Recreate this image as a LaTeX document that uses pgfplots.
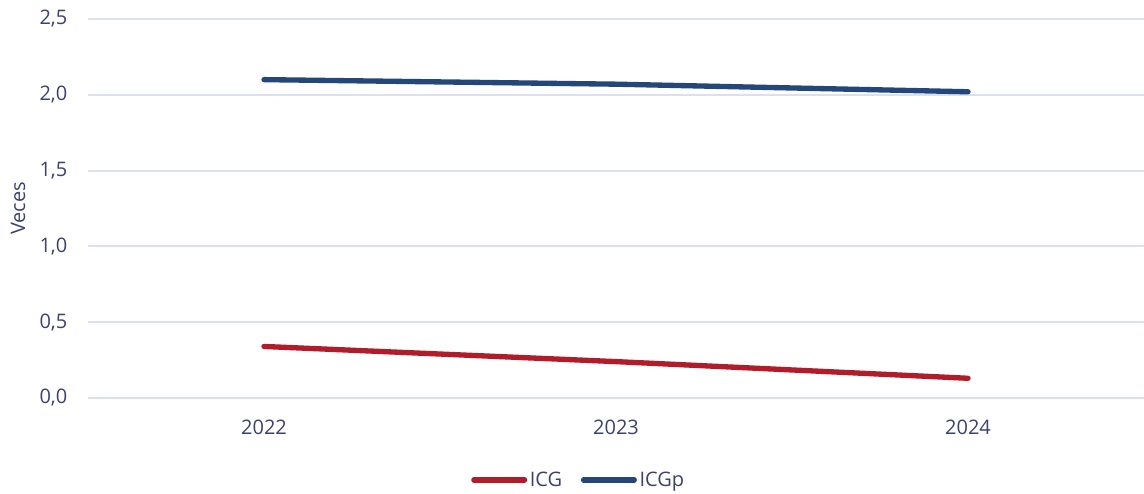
\documentclass[border=0pt]{standalone}
\usepackage{fontspec}
\setmainfont{Open Sans}
\usepackage{pgfplots}
\pgfplotsset{compat=1.18}
\usetikzlibrary{calc}

\definecolor{icgred}{HTML}{B01C2A}
\definecolor{icgblue}{HTML}{24477A}
\definecolor{txt}{HTML}{3B4170}
\definecolor{gridc}{HTML}{DCDFEF}

\begin{document}
\begin{tikzpicture}[x=1pt,y=1pt]
\begin{axis}[
  at={(0,0)}, anchor=south west,
  scale only axis,
  width=792pt, height=284.25pt,
  xmin=-0.5, xmax=2.5,
  ymin=0, ymax=2.5,
  xtick={0,1,2},
  xticklabels={2022,2023,2024},
  ytick={0,0.5,1,1.5,2,2.5},
  axis line style={draw=none},
  major tick length=0pt,
  ymajorgrids,
  grid style={gridc, line width=1.5pt},
  font=\fontsize{15pt}{18pt}\selectfont,
  ticklabel style={txt},
  yticklabel style={xshift=-12pt},
  xticklabel style={yshift=-13pt},
  /pgf/number format/assume math mode=true,
  yticklabel={\pgfmathprintnumber[fixed,fixed zerofill,precision=1,use comma]{\tick}},
  ylabel={Veces},
  every axis y label/.style={at={(rel axis cs:0,0.5)}, rotate=90, anchor=center,
    yshift=52.5pt, color=txt, font=\fontsize{15pt}{18pt}\selectfont},
  legend style={
    at={(rel axis cs:0.465,-0.216)}, anchor=center,
    draw=none, fill=none,
    legend columns=2,
    text=txt,
    font=\fontsize{15pt}{18pt}\selectfont,
    /tikz/every even column/.append style={column sep=12pt},
  },
  legend cell align=left,
  legend image code/.code={
    \draw[#1, line cap=round] (0pt,0pt) -- (38pt,0pt);
  },
]
\addplot[icgred, line width=4pt, line cap=round] coordinates {(0,0.34) (1,0.24) (2,0.13)};
\addlegendentry{ICG}
\addplot[icgblue, line width=4pt, line cap=round] coordinates {(0,2.10) (1,2.07) (2,2.02)};
\addlegendentry{ICGp}
\end{axis}
\pgfresetboundingbox
\path ($(current axis.south west)+(-66pt,-72pt)$) rectangle ($(current axis.north east)+(0pt,14.25pt)$);
\end{tikzpicture}
\end{document}
